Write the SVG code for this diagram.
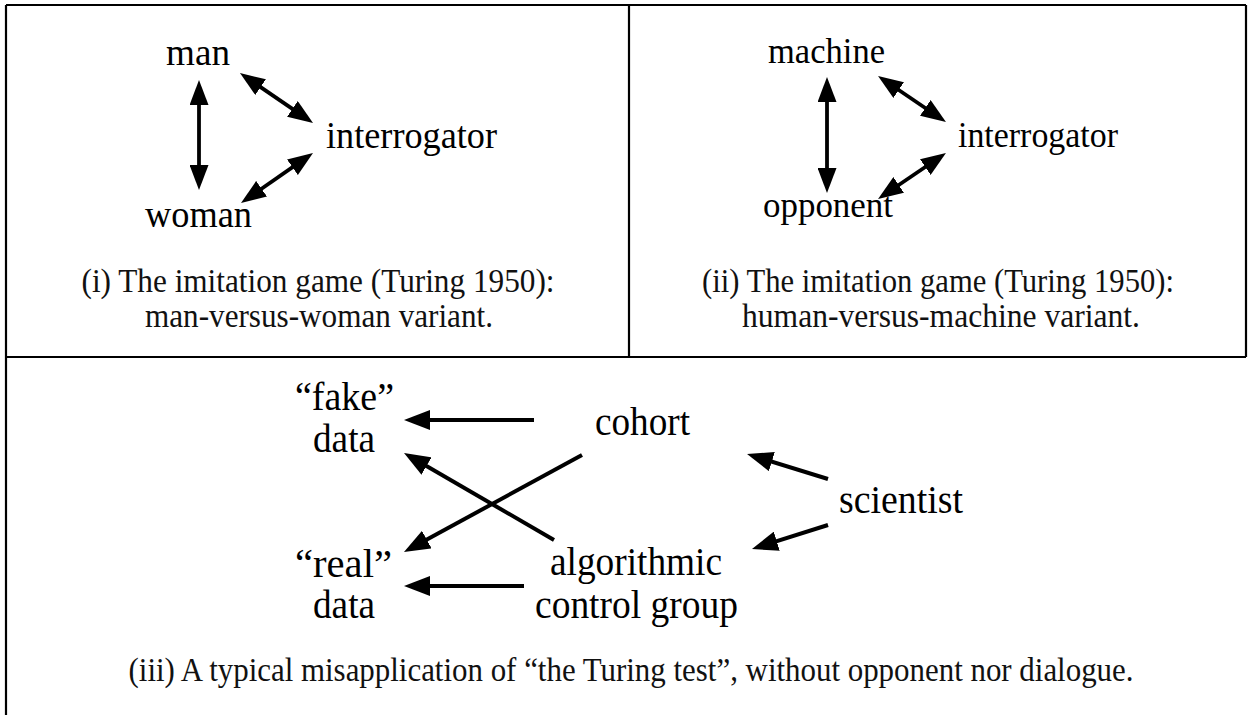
<svg xmlns="http://www.w3.org/2000/svg" width="1250" height="715" viewBox="0 0 1250 715">
  <style>
    .frame { stroke: #000; stroke-width: 2.2; fill: none; }
    .lbl { font-family: "Liberation Serif", "Times New Roman", serif; fill: #000; }
    .l1 { font-size: 38px; }
    .l2 { font-size: 36px; }
    .l3 { font-size: 39px; }
    .cap { font-family: "Liberation Serif", "Times New Roman", serif; font-size: 33px; fill: #111; text-anchor: middle; }
    .conn { stroke: #000; fill: none; }
    .thin { stroke-width: 3.8; }
    .thick { stroke-width: 4; }
  </style>
  <defs>
    <marker id="ah" viewBox="0 0 25 19" refX="12" refY="9.5" markerWidth="25" markerHeight="19" markerUnits="userSpaceOnUse" orient="auto-start-reverse">
      <path d="M0,0 L25,9.5 L0,19 Z" fill="#000"/>
    </marker>
    <marker id="ah3" viewBox="0 0 26 20" refX="14" refY="10" markerWidth="26" markerHeight="20" markerUnits="userSpaceOnUse" orient="auto">
      <path d="M0,0 L26,10 L0,20 Z" fill="#000"/>
    </marker>
  </defs>
  <rect width="1250" height="715" fill="#fff"/>

  <g id="frame">
    <line class="frame" x1="6" y1="5" x2="1246" y2="5"/>
    <line class="frame" x1="1246" y1="5" x2="1246" y2="357"/>
    <line class="frame" x1="6" y1="357" x2="1246" y2="357"/>
    <line class="frame" x1="629" y1="5" x2="629" y2="357"/>
    <line class="frame" x1="6" y1="5" x2="6" y2="715"/>
  </g>

  <g id="connectors">
    <!-- panel i -->
    <line class="conn thin" x1="199" y1="93" x2="199" y2="177" marker-start="url(#ah)" marker-end="url(#ah)"/>
    <line class="conn thin" x1="250.7" y1="80.4" x2="302.3" y2="115.6" marker-start="url(#ah)" marker-end="url(#ah)"/>
    <line class="conn thin" x1="302.3" y1="160.4" x2="251.7" y2="195.6" marker-start="url(#ah)" marker-end="url(#ah)"/>
    <!-- panel ii -->
    <line class="conn thin" x1="827" y1="90" x2="827" y2="180" marker-start="url(#ah)" marker-end="url(#ah)"/>
    <line class="conn thin" x1="888.8" y1="83.3" x2="935.2" y2="114.7" marker-start="url(#ah)" marker-end="url(#ah)"/>
    <line class="conn thin" x1="935.2" y1="160.3" x2="888.8" y2="191.7" marker-start="url(#ah)" marker-end="url(#ah)"/>
    <!-- panel iii -->
    <line class="conn thick" x1="534" y1="420" x2="416" y2="420" marker-end="url(#ah3)"/>
    <line class="conn thick" x1="524" y1="586" x2="416" y2="586" marker-end="url(#ah3)"/>
    <line class="conn thick" x1="554" y1="540" x2="414.4" y2="459" marker-end="url(#ah3)"/>
    <line class="conn thick" x1="582" y1="455" x2="414.5" y2="546.3" marker-end="url(#ah3)"/>
    <line class="conn thick" x1="828" y1="479" x2="758.5" y2="457.5" marker-end="url(#ah3)"/>
    <line class="conn thick" x1="828" y1="525" x2="763.4" y2="545.4" marker-end="url(#ah3)"/>
  </g>

  <g id="n-man"><text class="lbl l1" x="166" y="65" textLength="64" lengthAdjust="spacingAndGlyphs">man</text></g>
  <g id="n-woman"><text class="lbl l1" x="145" y="227" textLength="107" lengthAdjust="spacingAndGlyphs">woman</text></g>
  <g id="n-interrogator1"><text class="lbl l1" x="326" y="148" textLength="171" lengthAdjust="spacingAndGlyphs">interrogator</text></g>
  <g id="cap-i">
    <text class="cap" x="318" y="292" textLength="473" lengthAdjust="spacingAndGlyphs">(i) The imitation game (Turing 1950):</text>
    <text class="cap" x="319" y="327" textLength="348" lengthAdjust="spacingAndGlyphs">man-versus-woman variant.</text>
  </g>

  <g id="n-machine"><text class="lbl l2" x="768" y="63" textLength="117" lengthAdjust="spacingAndGlyphs">machine</text></g>
  <g id="n-opponent"><text class="lbl l2" x="763" y="217" textLength="130" lengthAdjust="spacingAndGlyphs">opponent</text></g>
  <g id="n-interrogator2"><text class="lbl l2" x="958" y="147" textLength="160" lengthAdjust="spacingAndGlyphs">interrogator</text></g>
  <g id="cap-ii">
    <text class="cap" x="938" y="292" textLength="472" lengthAdjust="spacingAndGlyphs">(ii) The imitation game (Turing 1950):</text>
    <text class="cap" x="941" y="327" textLength="398" lengthAdjust="spacingAndGlyphs">human-versus-machine variant.</text>
  </g>

  <g id="n-fake">
    <text class="lbl l3" x="295" y="410" textLength="99" lengthAdjust="spacingAndGlyphs">“fake”</text>
    <text class="lbl l3" x="313" y="452" textLength="62" lengthAdjust="spacingAndGlyphs">data</text>
  </g>
  <g id="n-real">
    <text class="lbl l3" x="295" y="577" textLength="97" lengthAdjust="spacingAndGlyphs">“real”</text>
    <text class="lbl l3" x="313" y="618" textLength="62" lengthAdjust="spacingAndGlyphs">data</text>
  </g>
  <g id="n-cohort"><text class="lbl l3" x="595" y="435" textLength="95" lengthAdjust="spacingAndGlyphs">cohort</text></g>
  <g id="n-algorithmic">
    <text class="lbl l3" x="550" y="575" textLength="172" lengthAdjust="spacingAndGlyphs">algorithmic</text>
    <text class="lbl l3" x="535" y="618" textLength="203" lengthAdjust="spacingAndGlyphs">control group</text>
  </g>
  <g id="n-scientist"><text class="lbl l3" x="839" y="513" textLength="124" lengthAdjust="spacingAndGlyphs">scientist</text></g>
  <g id="cap-iii">
    <text class="cap" x="631" y="681" textLength="1005" lengthAdjust="spacingAndGlyphs">(iii) A typical misapplication of “the Turing test”, without opponent nor dialogue.</text>
  </g>
</svg>
